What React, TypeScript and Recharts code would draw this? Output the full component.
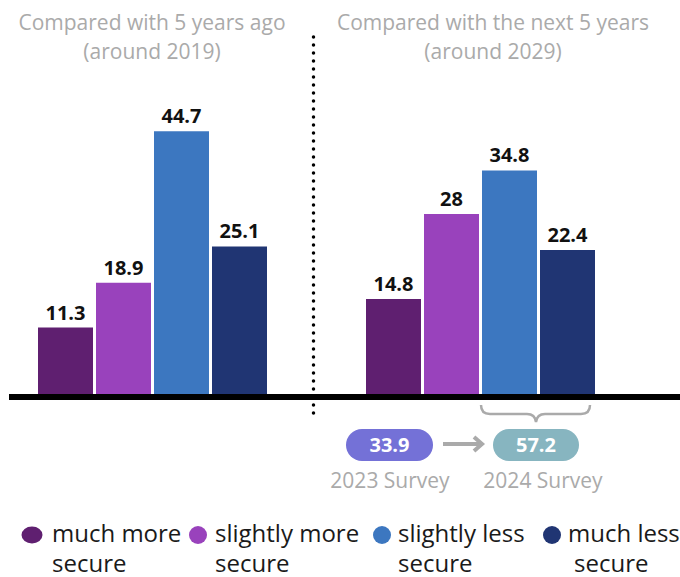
import React from 'react';
import { BarChart, Bar, XAxis, YAxis, LabelList } from 'recharts';

// security perception, share of respondents (%)
const seriesKeys = ['muchMore', 'slightlyMore', 'slightlyLess', 'muchLess'];
const seriesLabels = [
  ['much more', 'secure'],
  ['slightly more', 'secure'],
  ['slightly less', 'secure'],
  ['much less', 'secure'],
];
const seriesColors = ['#5f1f70', '#9942bc', '#3c77c0', '#203573'];

const pastValues = [11.3, 18.9, 44.7, 25.1];
const nextValues = [14.8, 28, 34.8, 22.4];

const pastTitle = ['Compared with 5 years ago', '(around 2019)'];
const nextTitle = ['Compared with the next 5 years', '(around 2029)'];

const surveyValues = [33.9, 57.2];
const surveyLabels = ['2023 Survey', '2024 Survey'];

const toRow = (name: string, vals: number[]) => {
  const row: Record<string, any> = { name };
  seriesKeys.forEach((k, i) => (row[k] = vals[i]));
  return row;
};

const pastData = [toRow('past', pastValues)];
const nextData = [toRow('next', nextValues)];

const FONT = '"Open Sans", sans-serif';
const GRAY = '#aaaaaa';

const renderValue = (props: any) => {
  const { x, y, width, value } = props;
  return (
    <text
      x={x + width / 2}
      y={y - 8}
      textAnchor="middle"
      fontFamily={FONT}
      fontWeight={700}
      fontSize={20}
      fill="#111"
    >
      {value}
    </text>
  );
};

function Group({ data, max, height }: { data: any[]; max: number; height: number }) {
  return (
    <BarChart
      width={229}
      height={height + 40}
      data={data}
      margin={{ top: 40, right: 0, bottom: 0, left: 0 }}
      barCategoryGap={0}
      barGap={3}
    >
      <XAxis dataKey="name" hide />
      <YAxis hide domain={[0, max]} />
      {seriesKeys.map((k, i) => (
        <Bar key={k} dataKey={k} fill={seriesColors[i]} isAnimationActive={false}>
          <LabelList dataKey={k} content={renderValue} />
        </Bar>
      ))}
    </BarChart>
  );
}

export default function App() {
  const legendX = [
    { cx: 32, tx: 52, tx2: 52 },
    { cx: 198, tx: 215, tx2: 215 },
    { cx: 382, tx: 398, tx2: 398 },
    { cx: 552, tx: 568, tx2: 574 },
  ];
  return (
    <div
      style={{
        position: 'absolute',
        left: 0,
        top: 0,
        width: 680,
        height: 577,
        background: '#fff',
        overflow: 'hidden',
        fontFamily: FONT,
      }}
    >
      <div style={{ position: 'absolute', left: 38, top: 60 }}>
        <Group data={pastData} max={50} height={294} />
      </div>
      <div style={{ position: 'absolute', left: 366, top: 97 }}>
        <Group data={nextData} max={40} height={257} />
      </div>

      <svg
        width={680}
        height={577}
        style={{ position: 'absolute', left: 0, top: 0, pointerEvents: 'none' }}
        fontFamily={FONT}
      >
        {/* titles */}
        {pastTitle.map((t, i) => (
          <text key={t} x={152} y={30 + i * 29} textAnchor="middle" fontSize={21} fill={GRAY}>
            {t}
          </text>
        ))}
        {nextTitle.map((t, i) => (
          <text key={t} x={493} y={30 + i * 29} textAnchor="middle" fontSize={21} fill={GRAY}>
            {t}
          </text>
        ))}

        {/* divider + baseline */}
        <line
          x1={313.5}
          y1={37}
          x2={313.5}
          y2={414}
          stroke="#000"
          strokeWidth={3.5}
          strokeDasharray="0 8"
          strokeLinecap="round"
        />
        <rect x={9} y={394} width={671} height={6} fill="#000" />

        {/* brace over the "less secure" bars */}
        <path
          d="M481,405 Q481,414 490,414 L527,414 Q535,414 536,422 Q537,414 545,414 L581,414 Q590,414 590,405"
          stroke={GRAY}
          strokeWidth={2.5}
          fill="none"
        />

        {/* survey comparison */}
        <rect x={346} y={429} width={87} height={32} rx={16} fill="#7471d7" />
        <text x={389.5} y={452} textAnchor="middle" fontSize={20} fontWeight={700} fill="#fff">
          {surveyValues[0]}
        </text>
        <line x1={443} y1={444} x2={480} y2={444} stroke={GRAY} strokeWidth={4} />
        <polyline points="474,437 482,444 474,451" stroke={GRAY} strokeWidth={4} fill="none" />
        <rect x={493} y={429} width={86} height={32} rx={16} fill="#87b5c0" />
        <text x={536} y={452} textAnchor="middle" fontSize={20} fontWeight={700} fill="#fff">
          {surveyValues[1]}
        </text>
        <text x={390} y={488} textAnchor="middle" fontSize={21} fill={GRAY}>
          {surveyLabels[0]}
        </text>
        <text x={543} y={488} textAnchor="middle" fontSize={21} fill={GRAY}>
          {surveyLabels[1]}
        </text>

        {/* legend */}
        {seriesLabels.map((lines, i) => (
          <g key={i}>
            {i === 0 ? (
              <ellipse cx={legendX[i].cx} cy={535} rx={10.5} ry={8.5} fill={seriesColors[i]} />
            ) : (
              <circle cx={legendX[i].cx} cy={535} r={9} fill={seriesColors[i]} />
            )}
            <text x={legendX[i].tx} y={542} fontSize={24} fill="#1a1a1a">
              {lines[0]}
            </text>
            <text x={legendX[i].tx2} y={572} fontSize={24} fill="#1a1a1a">
              {lines[1]}
            </text>
          </g>
        ))}
      </svg>
    </div>
  );
}
